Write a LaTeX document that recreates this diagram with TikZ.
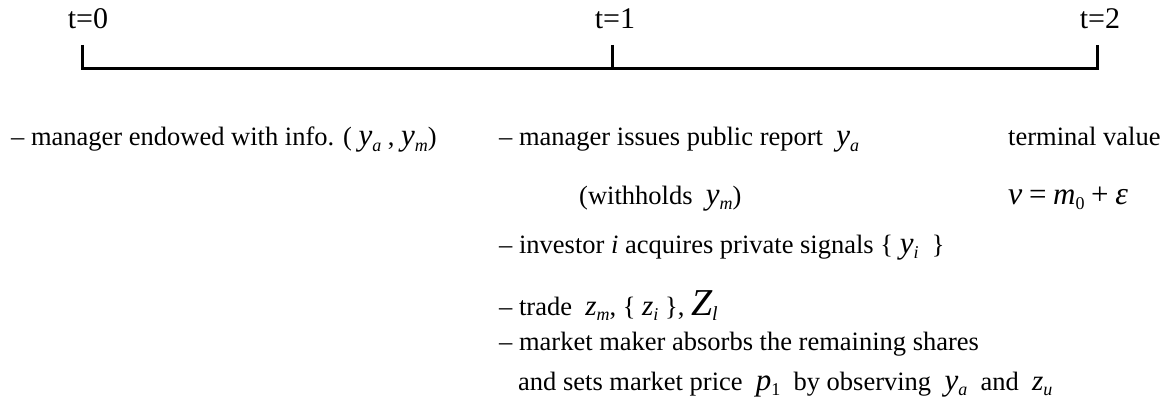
\documentclass[tikz,border=0pt]{standalone}
\usepackage{fontspec}
\setmainfont{Liberation Serif}
% italic variable with subscript: #1 base, #2 subscript
\newcommand{\mvar}[2]{{\fontsize{31}{31}\selectfont\itshape #1}\raisebox{-0.45ex}{\fontsize{18}{18}\selectfont\itshape #2}}
\newcommand{\mvarup}[2]{{\fontsize{31}{31}\selectfont\itshape #1}\raisebox{-0.45ex}{\fontsize{18}{18}\selectfont #2}}
\newcommand{\bigsym}[1]{{\fontsize{31}{31}\selectfont #1}}
\begin{document}
\begin{tikzpicture}[x=1pt,y=-1pt,
  txt/.style={anchor=base west,inner sep=0pt,font=\fontsize{26.5}{26.5}\selectfont},
  tlab/.style={anchor=base,inner sep=0pt,font=\fontsize{30}{30}\selectfont},
  axis/.style={line width=3pt}]
\useasboundingbox (0,0) rectangle (1160,420);
% timeline
\coordinate (a0) at (82,45);
\coordinate (b0) at (82,69);
\coordinate (a1) at (612,45);
\coordinate (b1) at (612,69);
\coordinate (a2) at (1097,45);
\coordinate (b2) at (1097,69);
\draw[axis] (a0) -- (b0) -- (b2) -- (a2);
\draw[axis] (a1) -- (b1);
\node[tlab] (t0) at (88,29) {t=0};
\node[tlab] (t1) at (615,29) {t=1};
\node[tlab] (t2) at (1100,29) {t=2};
% left column
\node[txt] (l1) at (11,146) {– manager endowed with info. ( \mvar{y}{a} ,\ \mvar{y}{m})};
% middle column
\node[txt] (m1) at (499,146) {– manager issues public report\ \ \mvar{y}{a}};
\node[txt] (m2) at (579,204) {(withholds\ \ \mvar{y}{m})};
\node[txt] (m3) at (499,253) {– investor \textit{i} acquires private signals \{\ \mvar{y}{i}\ \ \}};
\node[txt] (m4) at (499,315) {– trade\ \ {\fontsize{29}{29}\selectfont\itshape z}\raisebox{-0.45ex}{\fontsize{18}{18}\selectfont\itshape m}, \{ {\fontsize{29}{29}\selectfont\itshape z}\raisebox{-0.45ex}{\fontsize{18}{18}\selectfont\itshape i} \},\ {\fontsize{38}{38}\selectfont\itshape Z}\raisebox{-0.45ex}{\fontsize{20}{20}\selectfont\itshape l}};
\node[txt] (m5) at (499,350) {– market maker absorbs the remaining shares};
\node[txt] (m6) at (518,390) {and sets market price\ \ \mvarup{p}{1}\ \ by observing\ \ \mvar{y}{a}\ \ and\ \ {\fontsize{29}{29}\selectfont\itshape z}\raisebox{-0.45ex}{\fontsize{18}{18}\selectfont\itshape u}};
% right column
\node[txt] (r1) at (1008,146) {terminal value};
\node[txt] (r2) at (1008,204) {{\fontsize{32}{32}\selectfont\itshape v} \bigsym{=} \mvarup{m}{0} \bigsym{+} {\fontsize{32}{32}\selectfont\itshape ε}};
\end{tikzpicture}
\end{document}
